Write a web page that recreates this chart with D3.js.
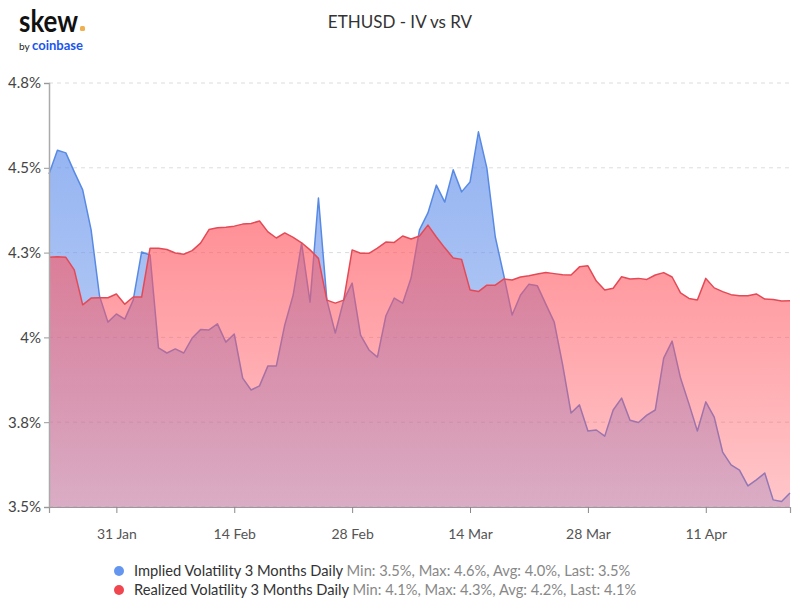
<!DOCTYPE html>
<html>
<head>
<meta charset="utf-8">
<script src="https://cdn.jsdelivr.net/npm/d3@7"></script>
<style>
  html, body { margin: 0; padding: 0; background: #fff; }
  svg { display: block; }
  text { font-family: Lato, "Open Sans", sans-serif; }
</style>
</head>
<body>
<svg id="chart" width="800" height="600"></svg>
<script>
// ---- data ----
const startDate = "2021-01-23";
const ivValues = [
  4.482, 4.552, 4.544, 4.488, 4.435, 4.317, 4.122, 4.045, 4.069, 4.054,
  4.110, 4.252, 4.243, 3.969, 3.954, 3.966, 3.954, 3.998, 4.023, 4.022,
  4.040, 3.986, 4.010, 3.880, 3.845, 3.857, 3.916, 3.916, 4.037, 4.125,
  4.278, 4.104, 4.411, 4.110, 4.013, 4.110, 4.160, 4.007, 3.963, 3.942,
  4.063, 4.116, 4.101, 4.175, 4.317, 4.367, 4.449, 4.399, 4.494, 4.429,
  4.458, 4.606, 4.499, 4.296, 4.184, 4.066, 4.125, 4.157, 4.152, 4.098,
  4.045, 3.919, 3.777, 3.801, 3.724, 3.727, 3.709, 3.786, 3.821, 3.756,
  3.749, 3.771, 3.786, 3.939, 3.989, 3.880, 3.804, 3.724, 3.810, 3.765,
  3.662, 3.624, 3.609, 3.562, 3.580, 3.600, 3.521, 3.516, 3.541
];
const rvValues = [
  4.236, 4.238, 4.236, 4.199, 4.096, 4.116, 4.117, 4.117, 4.128, 4.098,
  4.119, 4.119, 4.263, 4.263, 4.259, 4.249, 4.245, 4.256, 4.278, 4.318,
  4.323, 4.325, 4.328, 4.334, 4.336, 4.343, 4.311, 4.293, 4.308, 4.295,
  4.279, 4.258, 4.233, 4.110, 4.101, 4.110, 4.258, 4.248, 4.248, 4.263,
  4.281, 4.280, 4.299, 4.290, 4.299, 4.331, 4.296, 4.264, 4.234, 4.230,
  4.140, 4.135, 4.154, 4.154, 4.172, 4.169, 4.178, 4.182, 4.187, 4.191,
  4.188, 4.185, 4.184, 4.208, 4.211, 4.166, 4.140, 4.145, 4.179, 4.172,
  4.174, 4.171, 4.184, 4.191, 4.178, 4.131, 4.115, 4.110, 4.174, 4.146,
  4.135, 4.126, 4.123, 4.123, 4.128, 4.113, 4.112, 4.107, 4.108
];
const yTickValues = [3.5, 3.75, 4.0, 4.25, 4.5, 4.75];
const yTickLabels = ["3.5%", "3.8%", "4%", "4.3%", "4.5%", "4.8%"];
const xTickDates = ["2021-01-31", "2021-02-14", "2021-02-28", "2021-03-14", "2021-03-28", "2021-04-11"];
const xTickLabels = ["31 Jan", "14 Feb", "28 Feb", "14 Mar", "28 Mar", "11 Apr"];
const seriesNames = ["Implied Volatility 3 Months Daily", "Realized Volatility 3 Months Daily"];
const seriesStats = ["Min: 3.5%, Max: 4.6%, Avg: 4.0%, Last: 3.5%", "Min: 4.1%, Max: 4.3%, Avg: 4.2%, Last: 4.1%"];
const chartTitle = "ETHUSD - IV vs RV";

// ---- layout ----
const svg = d3.select("#chart");
const pLeft = 49, pRight = 790, pTop = 83, pBottom = 507;
const parse = d3.utcParse("%Y-%m-%d");
const t0 = parse(startDate);
const dates = ivValues.map((_, i) => d3.utcDay.offset(t0, i));
const ivData = dates.map((d, i) => ({ d, v: ivValues[i] }));
const rvData = dates.map((d, i) => ({ d, v: rvValues[i] }));

const x = d3.scaleUtc().domain([dates[0], dates[dates.length - 1]]).range([pLeft, pRight]);
const y = d3.scaleLinear().domain([3.5, 4.75]).range([pBottom, pTop]);

// gradients
const defs = svg.append("defs");
function grad(id, color, o1, o2) {
  const g = defs.append("linearGradient").attr("id", id)
    .attr("gradientUnits", "userSpaceOnUse")
    .attr("x1", 0).attr("y1", pTop).attr("x2", 0).attr("y2", pBottom);
  g.append("stop").attr("offset", "0%").attr("stop-color", color).attr("stop-opacity", o1);
  g.append("stop").attr("offset", "100%").attr("stop-color", color).attr("stop-opacity", o2);
}
grad("ivGrad", "rgb(100,145,235)", 0.74, 0.35);
grad("rvGrad", "rgb(255,84,94)", 0.8, 0.33);

// grid
svg.append("g").selectAll("line").data(yTickValues).join("line")
  .attr("x1", pLeft).attr("x2", pRight)
  .attr("y1", d => y(d)).attr("y2", d => y(d))
  .attr("stroke", "#dcdcdc").attr("stroke-width", 1)
  .attr("stroke-dasharray", "4,4");

// areas & lines
const area = d3.area().x(d => x(d.d)).y0(y(3.5)).y1(d => y(d.v));
const line = d3.line().x(d => x(d.d)).y(d => y(d.v));

svg.append("path").datum(ivData).attr("d", area).attr("fill", "url(#ivGrad)");
svg.append("path").datum(ivData).attr("d", line).attr("fill", "none")
  .attr("stroke", "rgb(88,138,228)").attr("stroke-width", 1.5).attr("stroke-linejoin", "round");
svg.append("path").datum(rvData).attr("d", area).attr("fill", "url(#rvGrad)");
svg.append("path").datum(rvData).attr("d", line).attr("fill", "none")
  .attr("stroke", "rgb(228,74,86)").attr("stroke-width", 1.5).attr("stroke-linejoin", "round");

// y axis
const yAxis = d3.axisLeft(y).tickValues(yTickValues)
  .tickFormat((d, i) => yTickLabels[i]).tickSize(5).tickPadding(3);
const gy = svg.append("g").attr("transform", `translate(${pLeft},0)`).call(yAxis);
gy.select(".domain").attr("stroke", "#aaa").attr("stroke-width", 1.5);
gy.selectAll(".tick line").attr("stroke", "#999");
gy.selectAll(".tick text").attr("fill", "#444").style("font-size", "15px");

// x axis
const xAxis = d3.axisBottom(x).tickValues(xTickDates.map(parse))
  .tickFormat((d, i) => xTickLabels[i]).tickSize(6).tickPadding(16);
const gx = svg.append("g").attr("transform", `translate(0,${pBottom})`).call(xAxis);
gx.select(".domain").attr("stroke", "#999").attr("stroke-width", 1.2);
gx.selectAll(".tick line").attr("stroke", "#888");
gx.selectAll(".tick text").attr("fill", "#555").style("font-size", "14px");

// title
svg.append("text").attr("x", 400).attr("y", 28).attr("text-anchor", "middle")
  .attr("fill", "#333").style("font-size", "17px").text(chartTitle);

// logo
svg.append("text").attr("x", 19).attr("y", 32).attr("fill", "#111")
  .style("font-size", "30px").style("font-weight", "bold")
  .attr("textLength", 59).attr("lengthAdjust", "spacingAndGlyphs").text("skew");
svg.append("rect").attr("x", 80).attr("y", 26).attr("width", 5).attr("height", 5)
  .attr("rx", 1.5).attr("fill", "#f0b050");
svg.append("text").attr("x", 19).attr("y", 50).attr("fill", "#222")
  .style("font-size", "10px").text("by");
svg.append("text").attr("x", 32).attr("y", 50).attr("fill", "#1a55ee")
  .style("font-size", "13.5px").style("font-weight", "bold")
  .attr("textLength", 51).attr("lengthAdjust", "spacingAndGlyphs").text("coinbase");

// legend
const legColors = ["rgb(100,150,240)", "rgb(240,70,80)"];
const leg = svg.append("g");
seriesNames.forEach((name, i) => {
  const yy = 571 + i * 19;
  leg.append("circle").attr("cx", 119).attr("cy", yy).attr("r", 5).attr("fill", legColors[i]);
  const t = leg.append("text").attr("x", 134).attr("y", yy + 5).style("font-size", "14.7px");
  t.append("tspan").attr("fill", "#333").text(name + " ");
  t.append("tspan").attr("fill", "#888").text(seriesStats[i]);
});
</script>
</body>
</html>
